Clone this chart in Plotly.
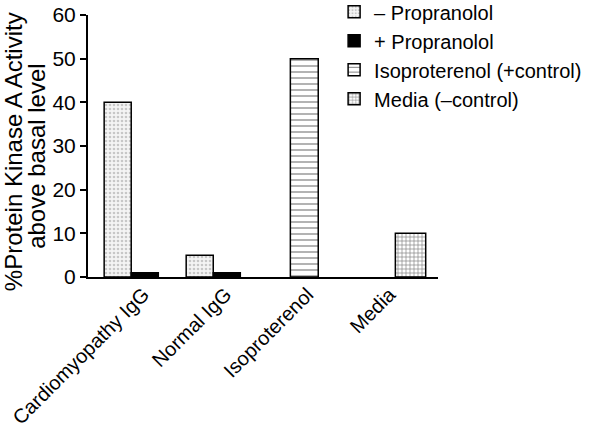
import plotly.graph_objects as go

categories = ["Cardiomyopathy IgG", "Normal IgG", "Isoproterenol", "Media"]
minus_prop_cats = ["Cardiomyopathy IgG", "Normal IgG"]
minus_prop_vals = [40, 5]
plus_prop_cats = ["Cardiomyopathy IgG", "Normal IgG"]
plus_prop_vals = [1, 1]
iso_cats = ["Isoproterenol"]
iso_vals = [50]
media_cats = ["Media"]
media_vals = [10]
y_ticks = [0, 10, 20, 30, 40, 50, 60]
y_title_line1 = "%Protein Kinase A Activity"
y_title_line2 = "above basal level"

FONT = "Liberation Sans, Arial, sans-serif"

fig = go.Figure()
fig.add_trace(go.Bar(
    x=minus_prop_cats, y=minus_prop_vals, name="– Propranolol",
    offset=-0.48, width=0.33,
    marker=dict(color="white", line=dict(color="black", width=1.5),
                pattern=dict(shape=".", fgcolor="#9a9a9a", bgcolor="#f4f4f4", size=4, solidity=0.35)),
))
fig.add_trace(go.Bar(
    x=plus_prop_cats, y=plus_prop_vals, name="+ Propranolol",
    offset=-0.15, width=0.33,
    marker=dict(color="black", line=dict(color="black", width=1.5)),
))
fig.add_trace(go.Bar(
    x=iso_cats, y=iso_vals, name="Isoproterenol (+control)",
    offset=-0.21, width=0.34,
    marker=dict(color="white", line=dict(color="black", width=1.5),
                pattern=dict(shape="-", fgcolor="black", bgcolor="white", size=6, solidity=0.2)),
))
fig.add_trace(go.Bar(
    x=media_cats, y=media_vals, name="Media (–control)",
    offset=0.07, width=0.37,
    marker=dict(color="white", line=dict(color="black", width=1.5),
                pattern=dict(shape="+", fgcolor="black", bgcolor="white", size=4, solidity=0.3)),
))

fig.add_annotation(
    text=y_title_line1, xref="paper", yref="paper", x=-0.214, y=0.477,
    xanchor="center", yanchor="middle", textangle=-90, showarrow=False,
    font=dict(size=24, family=FONT, color="black"),
)
fig.add_annotation(
    text=y_title_line2, xref="paper", yref="paper", x=-0.146, y=0.462,
    xanchor="center", yanchor="middle", textangle=-90, showarrow=False,
    font=dict(size=24, family=FONT, color="black"),
)

fig.update_layout(
    width=602, height=430,
    margin=dict(l=88, r=164, t=15, b=153, autoexpand=False),
    plot_bgcolor="white", paper_bgcolor="white",
    font=dict(family=FONT, size=20, color="black"),
    showlegend=True,
    legend=dict(xref="container", yref="paper", x=0.555, y=1.087, xanchor="left", yanchor="top",
                bgcolor="rgba(0,0,0,0)", font=dict(size=20, family=FONT),
                tracegroupgap=0, itemwidth=30),
    xaxis=dict(type="category", categoryorder="array", categoryarray=categories,
               range=[-0.677, 3.59], showline=True, linecolor="black", linewidth=2,
               ticks="", tickangle=-45, tickfont=dict(size=20, family=FONT),
               ticklabelstandoff=-4,
               showgrid=False, zeroline=False, automargin=False),
    yaxis=dict(range=[0, 60], tickvals=y_ticks, showline=True, linecolor="black", linewidth=2,
               ticks="outside", ticklen=6, tickwidth=2, tickcolor="black",
               tickfont=dict(size=21, family=FONT), showgrid=False, zeroline=False,
               automargin=False),
)

fig.write_html("out.html", config={"displayModeBar": False},
               post_script="document.body.style.margin='0px';")
